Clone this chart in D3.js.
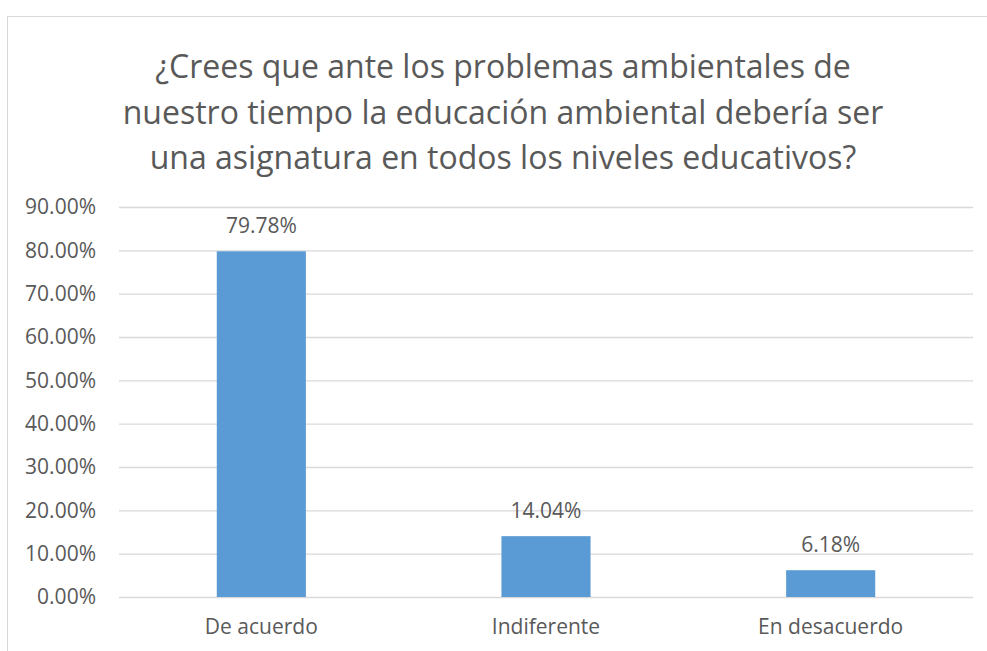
<!DOCTYPE html>
<html>
<head>
<meta charset="utf-8">
<script src="https://cdn.jsdelivr.net/npm/d3@7"></script>
<style>
  body { margin: 0; background: #fff; }
  text { font-family: "Open Sans", sans-serif; fill: #595959; }
</style>
</head>
<body>
<div id="chart"></div>
<script>
const categories = ['De acuerdo', 'Indiferente', 'En desacuerdo'];
const values = [0.7978, 0.1404, 0.0618];
const yTicks = [0, 0.1, 0.2, 0.3, 0.4, 0.5, 0.6, 0.7, 0.8, 0.9];
const titleLines = [
    '¿Crees que ante los problemas ambientales de',
    'nuestro tiempo la educación ambiental debería ser',
    'una asignatura en todos los niveles educativos?'
];

let buildChart = function() {
    let width = 987, height = 651;
    let margin = { top: 207, right: 14, bottom: 54, left: 119 };
    let innerW = width - margin.left - margin.right;
    let innerH = height - margin.top - margin.bottom;

    let svg = d3.select('#chart').append('svg')
        .attr('width', width)
        .attr('height', height);

    // chart frame (cut off at right and bottom like the screenshot)
    svg.append('rect')
        .attr('x', 7.5).attr('y', 16.5)
        .attr('width', 1000).attr('height', 700)
        .attr('fill', 'none')
        .attr('stroke', '#d9d9d9');

    svg.append('g').selectAll('text')
        .data(titleLines)
        .join('text')
        .attr('x', 503)
        .attr('y', (d, i) => 78 + i * 45.5)
        .attr('text-anchor', 'middle')
        .style('font-size', '32px')
        .text(d => d);

    let g = svg.append('g')
        .attr('transform', 'translate(' + margin.left + ',' + margin.top + ')');

    let x = d3.scaleBand().domain(categories).range([0, innerW]).paddingInner(0.687).paddingOuter(0.3435);
    let y = d3.scaleLinear().domain([0, 0.9]).range([innerH, 0]);

    let yAxis = g.append('g')
        .call(d3.axisLeft(y).tickValues(yTicks).tickFormat(d3.format('.2%')).tickSize(-innerW).tickPadding(23));
    yAxis.select('.domain').remove();
    yAxis.selectAll('.tick line').attr('stroke', '#d9d9d9').attr('stroke-width', 1.3);
    yAxis.selectAll('.tick text').style('font-size', '21px').attr('fill', '#595959');

    let xAxis = g.append('g')
        .attr('transform', 'translate(0,' + innerH + ')')
        .call(d3.axisBottom(x).tickSize(0).tickPadding(22));
    xAxis.select('.domain').remove();
    xAxis.selectAll('.tick text').style('font-size', '21px').attr('fill', '#595959');

    g.selectAll('rect.bar')
        .data(values)
        .join('rect').classed('bar', true)
        .attr('x', (d, i) => x(categories[i]))
        .attr('width', x.bandwidth())
        .attr('y', d => y(d))
        .attr('height', d => innerH - y(d))
        .attr('fill', '#5b9bd5');

    g.selectAll('text.label')
        .data(values)
        .join('text').classed('label', true)
        .attr('x', (d, i) => x(categories[i]) + x.bandwidth() / 2)
        .attr('y', d => y(d) - 18)
        .attr('text-anchor', 'middle')
        .style('font-size', '21px')
        .text(d => d3.format('.2%')(d));
};

buildChart();
</script>
</body>
</html>
